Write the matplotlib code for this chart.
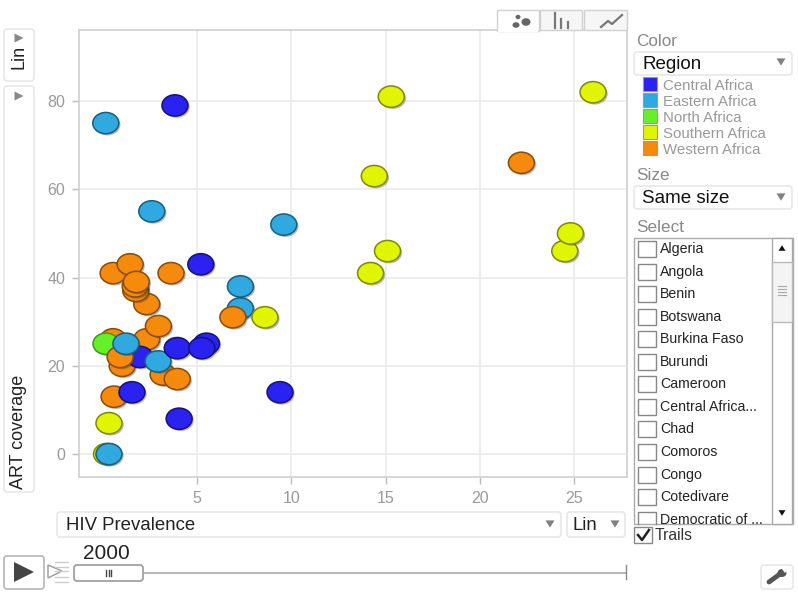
import numpy as np
import matplotlib
matplotlib.use('Agg')
import matplotlib.pyplot as plt
import matplotlib.patheffects as pe
from matplotlib.path import Path
from matplotlib.patches import FancyBboxPatch, Rectangle, Polygon, Ellipse

plt.rcParams['font.family'] = ['Liberation Sans', 'DejaVu Sans']

# values, listed in drawing order (back to front)
hiv = [3.2, 0.55, 0.2, 1.03, 2.33, 1.97, 0.17, 0.92, 1.23, 2.93, 3.95, 3.95,
       2.95, 0.55, 0.6, 1.55, 1.45, 2.33, 1.75, 1.72, 1.78, 3.62, 5.2,
       5.5, 5.25, 4.05, 9.4, 7.3, 7.3, 6.9, 8.6, 0.33, 0.33,
       0.16, 3.83, 2.6, 9.6, 14.2, 15.1, 14.4, 15.3, 22.2, 24.5, 24.8, 26.0]
art = [18, 26, 0, 20, 26, 22, 25, 22, 25, 21, 24, 17,
       29, 41, 13, 14, 43, 34, 37, 38, 39, 41, 43,
       25, 24, 8, 14, 33, 38, 31, 31, 7, 0,
       75, 79, 55, 52, 41, 46, 63, 81, 66, 46, 50, 82]
region = ['W', 'W', 'S', 'W', 'W', 'C', 'N', 'W', 'E', 'E', 'C', 'W',
          'W', 'W', 'W', 'C', 'W', 'W', 'W', 'W', 'W', 'W', 'C',
          'C', 'C', 'C', 'C', 'E', 'E', 'W', 'S', 'S', 'E',
          'E', 'C', 'E', 'E', 'S', 'S', 'S', 'S', 'W', 'S', 'S', 'S']

x_ticks = [5, 10, 15, 20, 25]
y_ticks = [0, 20, 40, 60, 80]
legend_names = ['Central Africa', 'Eastern Africa', 'North Africa', 'Southern Africa', 'Western Africa']
legend_keys = ['C', 'E', 'N', 'S', 'W']
colors = {'C': '#2a22f0', 'E': '#30a8e0', 'N': '#66f02a', 'S': '#e0f500', 'W': '#f58a0c'}
edges = {'C': '#15127a', 'E': '#17607f', 'N': '#3f9a1a', 'S': '#7f8a00', 'W': '#8a4c08'}
countries = ['Algeria', 'Angola', 'Benin', 'Botswana', 'Burkina Faso', 'Burundi', 'Cameroon',
             'Central Africa...', 'Chad', 'Comoros', 'Congo', 'Cotedivare', 'Democratic of ...']
W, H = 798, 611

fig = plt.figure(figsize=(W / 100, H / 100), dpi=100)

# main scatter
ax = fig.add_axes([79 / W, 1 - 477 / H, (627 - 79) / W, (477 - 30) / H])
ax.set_xlim(-1.26, 27.8)
ax.set_ylim(-5.2, 96.1)
ax.set_xticks(x_ticks)
ax.set_yticks(y_ticks)
ax.grid(True, color='#ebebeb', lw=1.2)
ax.set_axisbelow(True)
for s in ax.spines.values():
    s.set_color('#d0d0d0')
    s.set_linewidth(1.2)
ax.tick_params(colors='#bbbbbb', length=5, width=1, labelcolor='#999999', labelsize=11.5, pad=5)

# bubbles are wider than high in the screenshot
circle = Path.unit_circle()
ell = Path(circle.vertices * [1.22, 1.0], circle.codes)
shadow = [pe.SimplePatchShadow(offset=(1.2, -1.2), alpha=0.35, shadow_rgbFace='#333333'), pe.Normal()]
for hx, ay, r in zip(hiv, art, region):
    ax.scatter([hx], [ay], s=350, marker=ell, color=colors[r], edgecolors=edges[r],
               linewidths=1.1, path_effects=shadow, clip_on=False, zorder=3)

# overlay in pixel coordinates for the controls around the chart
ui = fig.add_axes([0, 0, 1, 1], facecolor='none')
ui.set_xlim(0, W)
ui.set_ylim(H, 0)
ui.axis('off')


def box(x0, y0, x1, y1, ec='#e6e6e6', fc='white', lw=1.1, r=3):
    ui.add_patch(FancyBboxPatch((x0 + r, y0 + r), x1 - x0 - 2 * r, y1 - y0 - 2 * r,
                                boxstyle='round,pad=%d' % r, ec=ec, fc=fc, lw=lw))


def tri(x, y, s=4.5, c='#808080', d='down'):
    if d == 'down':
        pts = [(x - s, y - s * 0.8), (x + s, y - s * 0.8), (x, y + s * 0.8)]
    elif d == 'up':
        pts = [(x - s, y + s * 0.8), (x + s, y + s * 0.8), (x, y - s * 0.8)]
    else:
        pts = [(x - s, y - s), (x - s, y + s), (x + s, y)]
    ui.add_patch(Polygon(pts, closed=True, fc=c, ec='none'))


# view tabs
ui.add_patch(Rectangle((540, 10), 42, 20, fc='#f6f6f6', ec='#d0d0d0', lw=1))
ui.add_patch(Rectangle((584, 10), 43, 20, fc='#f6f6f6', ec='#d0d0d0', lw=1))
ui.add_patch(Rectangle((497, 10), 42, 21, fc='white', ec='#d0d0d0', lw=1))
ui.add_patch(Rectangle((498, 29), 40, 3, fc='white', ec='none'))
for cx, cy, rx, ry in [(518, 17, 2.5, 2.2), (526, 22, 4.5, 3.8), (516, 25, 3.5, 2.8)]:
    ui.add_patch(Ellipse((cx, cy), 2 * rx, 2 * ry, fc='#666666', ec='none'))
for bx, top in [(555, 13), (561, 19), (568, 22)]:
    ui.plot([bx, bx], [top, 28], color='#777777', lw=1.6)
ui.plot([601, 608, 612, 622], [27, 21, 24, 15], color='#777777', lw=1.6)

# y axis controls
box(4, 29, 34, 81)
box(4, 86, 34, 492)
ui.text(19, 57, 'Lin', rotation=90, ha='center', va='center', fontsize=13, color='#222222')
ui.text(19, 432, 'ART coverage', rotation=90, ha='center', va='center', fontsize=13, color='#222222')
tri(19, 38, c='#888888', d='right')
tri(19, 96, c='#888888', d='right')

# color and size selectors
ui.text(636, 41, 'Color', va='center', fontsize=12.3, color='#888888')
box(634, 52, 792, 75)
ui.text(642, 64.5, 'Region', va='center', fontsize=13.5, color='#111111')
tri(781, 62)
for i, (n, k) in enumerate(zip(legend_names, legend_keys)):
    yy = 84 + i * 16
    ui.add_patch(Rectangle((643, yy - 7), 14, 14, fc=colors[k], ec='#999999', lw=0.8))
    ui.text(663, yy + 2, n, va='center', fontsize=10.8, color='#999999')
ui.text(636, 175, 'Size', va='center', fontsize=12.3, color='#888888')
box(634, 186, 792, 209)
ui.text(642, 198.5, 'Same size', va='center', fontsize=13.5, color='#111111')
tri(781, 197)
ui.text(636, 228, 'Select', va='center', fontsize=12.3, color='#888888')

# country list
ui.add_patch(Rectangle((634, 238), 159, 286, fc='white', ec='#aaaaaa', lw=1))
for i, c in enumerate(countries):
    yy = 249 + i * 22.55
    if yy + 9 < 524:
        ui.add_patch(Rectangle((638, yy - 8), 18, 16, fc='white', ec='#888888', lw=1))
    else:
        ui.plot([638, 638, 656, 656], [524, yy - 8, yy - 8, 524], color='#888888', lw=1)
    t = ui.text(660, yy, c, va='center', fontsize=10.2, color='#222222')
    t.set_clip_path(Rectangle((634, 238), 138, 286, transform=ui.transData))
ui.add_patch(Rectangle((772, 238), 20, 286, fc='white', ec='#aaaaaa', lw=1))
ui.add_patch(Rectangle((772, 262), 20, 60, fc='#f4f4f4', ec='#bbbbbb', lw=1))
for yy in [286, 289, 292, 295]:
    ui.plot([778, 786], [yy, yy], color='#aaaaaa', lw=0.8)
tri(782, 248, s=3.5, c='#111111', d='up')
tri(782, 513, s=3.5, c='#111111')

# trails checkbox
ui.add_patch(Rectangle((634, 527), 18, 16, fc='white', ec='#888888', lw=1))
ui.plot([638, 642, 649], [535, 540, 530], color='#222222', lw=1.8)
ui.text(655, 536, 'Trails', va='center', fontsize=11.3, color='#333333')

# x axis controls
box(57, 512, 561, 537)
ui.text(66, 525.5, 'HIV Prevalence', va='center', fontsize=13.4, color='#222222')
tri(550, 524)
box(567, 512, 625, 537)
ui.text(573, 526, 'Lin', va='center', fontsize=13.4, color='#222222')
tri(615, 524)

# play controls and time slider
box(4, 556, 44, 589, ec='#bbbbbb', lw=1.3)
tri(24, 572, s=10, c='#444444', d='right')
for yy in [562, 567, 571, 577, 582]:
    ui.plot([55, 68], [yy, yy], color='#cccccc', lw=1)
ui.add_patch(Polygon([(48, 565), (48, 578), (62, 571)], closed=True, fc='white', ec='#999999', lw=1))
ui.plot([143, 626], [573, 573], color='#aaaaaa', lw=1.2)
ui.plot([626, 626], [565, 579], color='#888888', lw=1)
box(74, 565, 143, 581, ec='#999999', fc='white', lw=1.2)
for xx in [106, 108.5, 111]:
    ui.plot([xx, xx], [570, 576], color='#444444', lw=1)
ui.text(83, 553.5, '2000', va='center', fontsize=15, color='#222222')

# settings button
box(761, 565, 793, 589)
ui.plot([769, 780], [582, 574], color='#555555', lw=3.5, solid_capstyle='round')
ui.add_patch(Ellipse((782, 573), 9, 8, fc='#555555', ec='none'))
ui.add_patch(Polygon([(782, 569), (788, 569), (785, 573)], closed=True, fc='white', ec='none'))

fig.savefig('out.png', dpi=100)
